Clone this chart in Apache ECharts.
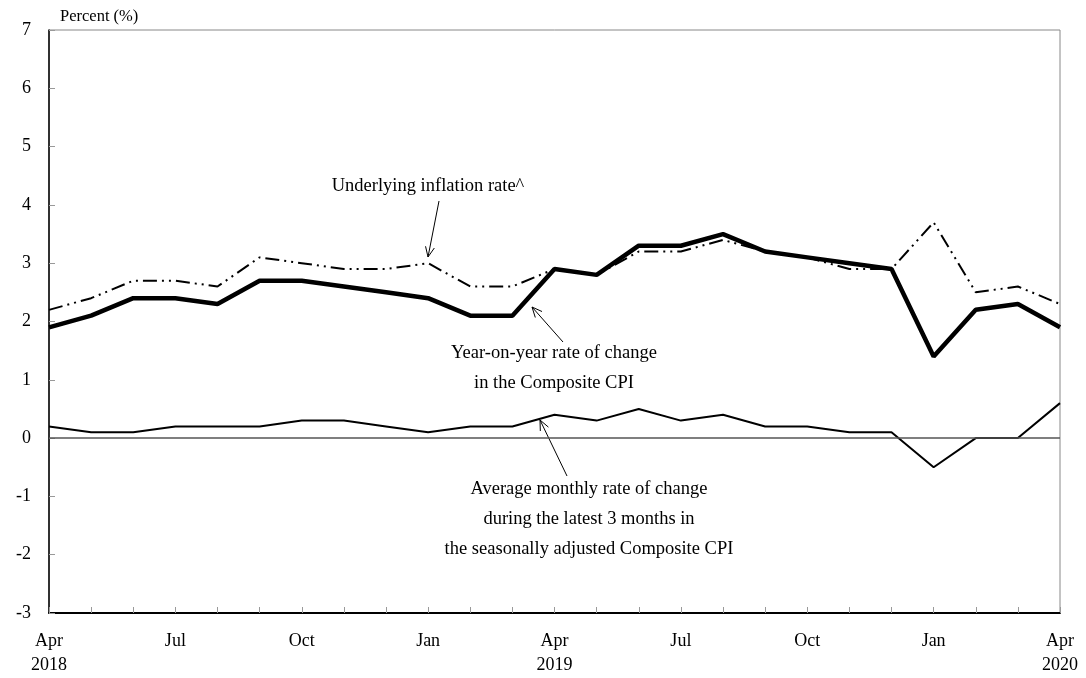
<!DOCTYPE html>
<html>
<head>
<meta charset="utf-8">
<script src="https://cdn.jsdelivr.net/npm/echarts@6/dist/echarts.min.js"></script>
<style>
html,body{margin:0;padding:0;background:#fff;}
#chart{width:1086px;height:678px;}
</style>
</head>
<body>
<div id="chart"></div>
<script>
// ---- data ----
const months = ['Apr 2018','May 2018','Jun 2018','Jul 2018','Aug 2018','Sep 2018','Oct 2018','Nov 2018','Dec 2018',
  'Jan 2019','Feb 2019','Mar 2019','Apr 2019','May 2019','Jun 2019','Jul 2019','Aug 2019','Sep 2019','Oct 2019','Nov 2019','Dec 2019',
  'Jan 2020','Feb 2020','Mar 2020','Apr 2020'];
const tickLabels = ['Apr\n2018','','','Jul','','','Oct','','','Jan','','','Apr\n2019','','','Jul','','','Oct','','','Jan','','','Apr\n2020'];
const yoyCPI     = [1.9,2.1,2.4,2.4,2.3,2.7,2.7,2.6,2.5,2.4,2.1,2.1,2.9,2.8,3.3,3.3,3.5,3.2,3.1,3.0,2.9,1.4,2.2,2.3,1.9];
const underlying = [2.2,2.4,2.7,2.7,2.6,3.1,3.0,2.9,2.9,3.0,2.6,2.6,2.9,2.8,3.2,3.2,3.4,3.2,3.1,2.9,2.9,3.7,2.5,2.6,2.3];
const avgMonthly = [0.2,0.1,0.1,0.2,0.2,0.2,0.3,0.3,0.2,0.1,0.2,0.2,0.4,0.3,0.5,0.3,0.4,0.2,0.2,0.1,0.1,-0.5,0.0,0.0,0.6];
const yTicks = {min: -3, max: 7, interval: 1};

const FONT = '"Liberation Serif", "Times New Roman", serif';
const chart = echarts.init(document.getElementById('chart'), null, {renderer: 'canvas'});

function arrow(x1, y1, x2, y2) {
  const ang = Math.atan2(y2 - y1, x2 - x1);
  const L = 11, A = 0.42;
  const w1 = [x2 - L * Math.cos(ang - A), y2 - L * Math.sin(ang - A)];
  const w2 = [x2 - L * Math.cos(ang + A), y2 - L * Math.sin(ang + A)];
  return [
    {type: 'line', shape: {x1, y1, x2, y2}, style: {stroke: '#000', lineWidth: 1}, silent: true},
    {type: 'polyline', shape: {points: [w1, [x2, y2], w2]}, style: {stroke: '#000', lineWidth: 1, fill: null}, silent: true}
  ];
}
function txt(x, y, s) {
  return {type: 'text', x, y, style: {text: s, font: '18.5px ' + FONT, fill: '#000', align: 'center', verticalAlign: 'middle', lineHeight: 30}, silent: true};
}

const graphics = [
  {type: 'text', x: 60, y: 17, style: {text: 'Percent (%)', font: '16.5px ' + FONT, fill: '#000', align: 'left', verticalAlign: 'middle'}, silent: true},
  txt(428, 186, 'Underlying inflation rate^'),
  ...arrow(439, 201, 428, 257),
  txt(554, 368, 'Year-on-year rate of change\nin the Composite CPI'),
  ...arrow(563, 342, 532, 307),
  txt(589, 519, 'Average monthly rate of change\nduring the latest 3 months in\nthe seasonally adjusted Composite CPI'),
  ...arrow(567, 476, 540, 420)
];

const option = {
  animation: false,
  backgroundColor: '#fff',
  grid: {left: 49, right: 26, top: 30, bottom: 65, show: true, borderColor: '#888', borderWidth: 1, backgroundColor: 'transparent'},
  xAxis: {
    type: 'category',
    data: months,
    boundaryGap: false,
    axisLine: {onZero: false, lineStyle: {color: '#000', width: 2}},
    axisTick: {show: true, inside: true, length: 6, interval: 0, lineStyle: {color: '#999'}},
    axisLabel: {
      interval: 0, margin: 16, color: '#000', fontFamily: FONT, fontSize: 18, lineHeight: 24,
      formatter: (v, i) => tickLabels[i]
    },
    splitLine: {show: false}
  },
  yAxis: {
    type: 'value',
    min: yTicks.min, max: yTicks.max, interval: yTicks.interval,
    axisLine: {show: true, lineStyle: {color: '#000', width: 1.5}},
    axisTick: {show: true, inside: true, length: 6, lineStyle: {color: '#999'}},
    axisLabel: {margin: 18, color: '#000', fontFamily: FONT, fontSize: 18},
    splitLine: {show: false}
  },
  series: [
    {
      name: 'Average monthly rate of change', type: 'line', data: avgMonthly,
      symbol: 'none', lineStyle: {color: '#000', width: 2}, z: 3,
      markLine: {
        silent: true, symbol: 'none', label: {show: false},
        lineStyle: {color: '#555', width: 1.5, type: 'solid'},
        data: [{yAxis: 0}]
      }
    },
    {
      name: 'Underlying inflation rate', type: 'line', data: underlying,
      symbol: 'none', lineStyle: {color: '#000', width: 2, type: [14, 5, 2, 5, 2, 5]}, z: 4
    },
    {
      name: 'Year-on-year rate of change', type: 'line', data: yoyCPI,
      symbol: 'none', lineStyle: {color: '#000', width: 4.5}, z: 5
    }
  ],
  graphic: graphics
};
chart.setOption(option);
</script>
</body>
</html>
